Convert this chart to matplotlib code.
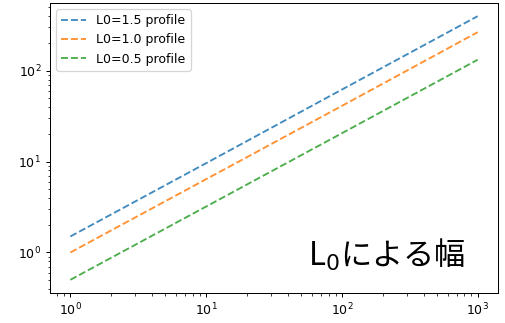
import matplotlib.pyplot as plt

# profile widths, read at each decade of x
x = [1, 10, 100, 1000]
w_15 = [1.5, 9.6, 62, 398]
w_10 = [1.0, 6.4, 41, 265]
w_05 = [0.5, 3.2, 20.5, 132]
labels = ['L0=1.5 profile', 'L0=1.0 profile', 'L0=0.5 profile']

DPI = 90
fig = plt.figure(figsize=(506 / DPI, 323 / DPI), dpi=DPI)
ax = fig.add_axes([50 / 506, 30 / 323, 448 / 506, 290 / 323])

for ys, lab in zip([w_15, w_10, w_05], labels):
    ax.plot(x, ys, '--', label=lab, alpha=0.85, lw=1.5)

ax.set_xscale('log')
ax.set_yscale('log')
ax.legend(loc='upper left', fontsize=10)

fig.text(308 / 506, 57 / 323, r'L$_0$による幅', fontsize=25,
         family=['Noto Sans CJK JP', 'DejaVu Sans'], va='baseline')

fig.savefig('out.png', dpi=DPI)
